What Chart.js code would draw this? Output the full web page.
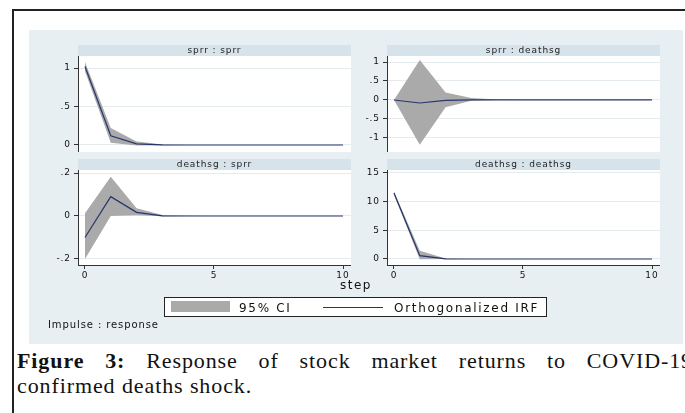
<!DOCTYPE html>
<html><head><meta charset="utf-8">
<script src="https://cdn.jsdelivr.net/npm/chart.js@4.4.1/dist/chart.umd.min.js"></script>
<style>
html,body{margin:0;padding:0;background:#fff;width:685px;height:413px;overflow:hidden;position:relative;}
#frame{position:absolute;left:12px;top:9px;width:720px;height:430px;border-top:2px solid #222;border-left:2px solid #222;}
#region{position:absolute;left:29px;top:30px;width:654px;height:314px;background:#e8eff2;}
canvas{position:absolute;}
.txt{position:absolute;font-family:'DejaVu Sans';color:#111;white-space:nowrap;}
#legend{position:absolute;left:164px;top:297px;width:381px;height:18px;border:1px solid #222;background:#fff;}
.cap{position:absolute;left:17px;font-family:'Liberation Serif';font-size:22px;line-height:25px;color:#111;letter-spacing:0.9px;}
</style></head>
<body>
<div id="frame"></div>
<div id="region"></div>
<canvas id="c0" width="303" height="107" style="left:48px;top:45px"></canvas>
<canvas id="c1" width="303" height="107" style="left:357px;top:45px"></canvas>
<canvas id="c2" width="303" height="122" style="left:48px;top:159px"></canvas>
<canvas id="c3" width="303" height="122" style="left:357px;top:159px"></canvas>
<div class="txt" style="left:316px;top:278px;width:80px;text-align:center;font-size:12px;line-height:14px;letter-spacing:1.5px">step</div>
<div id="legend">
  <div style="position:absolute;left:6px;top:3px;width:59px;height:11px;background:#aaaaaa;"></div>
  <div class="txt" style="left:74px;top:1px;font-size:12px;line-height:18px;letter-spacing:1.7px">95% CI</div>
  <div style="position:absolute;left:158px;top:9px;width:60px;height:1px;background:#26366b;"></div>
  <div class="txt" style="left:229px;top:1px;font-size:12px;line-height:18px;letter-spacing:1.7px">Orthogonalized IRF</div>
</div>
<div class="txt" style="left:48px;top:319px;font-size:10px;line-height:12px;letter-spacing:0.9px">Impulse : response</div>
<div class="cap" style="top:348px;width:676px;text-align:justify;text-align-last:justify;"><b>Figure 3:</b> Response of stock market returns to COVID-19</div>
<div class="cap" style="top:373px;">confirmed deaths shock.</div>
<script>
// ---- data ----
const steps = [0,1,2,3,4,5,6,7,8,9,10];
const xTicks = [0,5,10];

const panelTitles = ['sprr : sprr','sprr : deathsg','deathsg : sprr','deathsg : deathsg'];

// sprr : sprr
const irf_sprr_sprr = [1.02, 0.12, 0.015, 0.002, 0, 0, 0, 0, 0, 0, 0];
const lo_sprr_sprr  = [0.96, 0.03, -0.005, -0.002, 0, 0, 0, 0, 0, 0, 0];
const hi_sprr_sprr  = [1.08, 0.22, 0.045, 0.006, 0.001, 0, 0, 0, 0, 0, 0];
const yTicks_sprr_sprr = [0, 0.5, 1];

// sprr : deathsg
const irf_sprr_deathsg = [0, -0.08, -0.01, 0, 0, 0, 0, 0, 0, 0, 0];
const lo_sprr_deathsg  = [0, -1.18, -0.19, -0.02, 0, 0, 0, 0, 0, 0, 0];
const hi_sprr_deathsg  = [0, 1.05, 0.2, 0.05, 0.01, 0, 0, 0, 0, 0, 0];
const yTicks_sprr_deathsg = [-1, -0.5, 0, 0.5, 1];

// deathsg : sprr
const irf_deathsg_sprr = [-0.1, 0.09, 0.017, 0.001, 0, 0, 0, 0, 0, 0, 0];
const lo_deathsg_sprr  = [-0.2, 0.0, 0.004, -0.001, 0, 0, 0, 0, 0, 0, 0];
const hi_deathsg_sprr  = [0.013, 0.183, 0.036, 0.005, 0.001, 0, 0, 0, 0, 0, 0];
const yTicks_deathsg_sprr = [-0.2, 0, 0.2];

// deathsg : deathsg
const irf_deathsg_deathsg = [11.5, 0.58, 0.02, 0, 0, 0, 0, 0, 0, 0, 0];
const lo_deathsg_deathsg  = [11.2, -0.05, -0.02, 0, 0, 0, 0, 0, 0, 0, 0];
const hi_deathsg_deathsg  = [11.8, 1.45, 0.1, 0.01, 0, 0, 0, 0, 0, 0, 0];
const yTicks_deathsg_deathsg = [0, 5, 10, 15];

// ---- styling / layout ----
const CI_COLOR = '#aaaaaa', LINE_COLOR = '#26366b', STRIP = '#d7e3ea', GRID = '#e3ebef', AXIS = '#333';
const FONT = 'DejaVu Sans';

function fmt(v){
  if (Math.abs(v) < 1e-9) return '0';
  const s = String(+v.toFixed(2));
  return s.replace(/^(-?)0\./, '$1.');
}
const pts = arr => arr.map((y,i)=>({x:steps[i], y}));

const stripPlugin = {
  id:'strip',
  afterLayout(chart){
    const a = chart.chartArea;
    if (chart.titleBlock){ chart.titleBlock.left = a.left; chart.titleBlock.right = a.right; }
  },
  beforeDraw(chart){
    const {ctx, chartArea:a} = chart;
    ctx.letterSpacing = '0.9px';
    ctx.save();
    ctx.fillStyle = STRIP;
    ctx.fillRect(a.left, 0, a.right - a.left, a.top);
    ctx.fillStyle = '#ffffff';
    ctx.fillRect(a.left, a.top, a.right - a.left, a.bottom - a.top);
    ctx.restore();
  }
};

const panels = [
  {id:'c0', title:panelTitles[0], irf:irf_sprr_sprr, lo:lo_sprr_sprr, hi:hi_sprr_sprr, yt:yTicks_sprr_sprr, min:-0.091, max:1.156, bottom:false},
  {id:'c1', title:panelTitles[1], irf:irf_sprr_deathsg, lo:lo_sprr_deathsg, hi:hi_sprr_deathsg, yt:yTicks_sprr_deathsg, min:-1.37, max:1.158, bottom:false},
  {id:'c2', title:panelTitles[2], irf:irf_deathsg_sprr, lo:lo_deathsg_sprr, hi:hi_deathsg_sprr, yt:yTicks_deathsg_sprr, min:-0.228, max:0.214, bottom:true},
  {id:'c3', title:panelTitles[3], irf:irf_deathsg_deathsg, lo:lo_deathsg_deathsg, hi:hi_deathsg_deathsg, yt:yTicks_deathsg_deathsg, min:-1.05, max:15.52, bottom:true}
];

panels.forEach(p => {
  new Chart(document.getElementById(p.id), {
    type:'line',
    data:{ datasets:[
      {label:'Orthogonalized IRF', data:pts(p.irf), borderColor:LINE_COLOR, borderWidth:1.2, pointRadius:0, fill:false, tension:0},
      {label:'95% CI', data:pts(p.lo), borderColor:'rgba(0,0,0,0)', borderWidth:1, pointRadius:0, fill:false, backgroundColor:CI_COLOR, tension:0},
      {label:'95% CI', data:pts(p.hi), borderColor:'rgba(0,0,0,0)', borderWidth:1, pointRadius:0, fill:1, backgroundColor:CI_COLOR, tension:0}
    ]},
    options:{
      responsive:false, animation:false, devicePixelRatio:1,
      layout:{padding:0},
      plugins:{
        legend:{display:false}, tooltip:{enabled:false},
        title:{display:true, text:p.title, color:'#222', padding:0, font:{family:FONT, size:9, lineHeight:11/9, weight:'normal'}}
      },
      scales:{
        x:{type:'linear', min:-0.27, max:10.31, display:p.bottom,
          afterBuildTicks:s=>{ s.ticks = xTicks.map(v=>({value:v})); },
          afterFit:s=>{ s.paddingLeft=0; s.paddingRight=0; if(p.bottom) s.height=16; },
          grid:{drawOnChartArea:false, drawTicks:true, tickLength:4, tickColor:AXIS},
          border:{display:true, color:AXIS, width:1},
          ticks:{font:{family:FONT, size:9}, color:'#111', padding:1, maxRotation:0, autoSkip:false, callback:v=>fmt(v)}
        },
        y:{type:'linear', min:p.min, max:p.max,
          afterBuildTicks:s=>{ s.ticks = p.yt.map(v=>({value:v})); },
          afterFit:s=>{ s.width=30; s.paddingTop=0; s.paddingBottom=0; },
          grid:{color:GRID, lineWidth:1, drawTicks:true, tickLength:4, tickColor:AXIS},
          border:{display:true, color:AXIS, width:1},
          ticks:{font:{family:FONT, size:9}, color:'#111', padding:3, autoSkip:false, callback:v=>fmt(v)}
        }
      }
    },
    plugins:[stripPlugin]
  });
});
</script>
</body></html>
